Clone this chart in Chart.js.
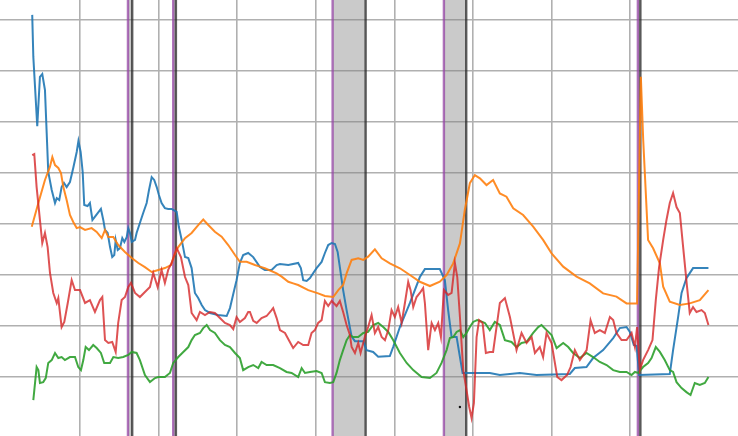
<!doctype html>
<html>
<head>
	<meta charset="UTF-8">
	<title>Rates</title>
	<script src="https://cdn.jsdelivr.net/npm/chart.js@4"></script>
	<style>
		body { margin: 0; background: #fff; }
	</style>
</head>
<body>
	<canvas id="chart" width="738" height="436"></canvas>
	<script>
		// [year, value] pairs
		const policyRate = [
			[1981.96,17.75],[1982.03,15.69],[1982.28,12.30],[1982.45,14.71],[1982.60,14.85],[1982.77,14.07],[1982.88,11.96],[1982.98,10.05],
			[1983.20,9.17],[1983.41,8.53],[1983.52,8.77],[1983.68,8.68],[1983.83,9.31],[1983.98,9.51],[1984.15,9.31],[1984.36,9.56],
			[1984.57,10.25],[1984.79,11.03],[1984.90,11.57],[1985.04,11.03],[1985.17,10.05],[1985.27,8.43],[1985.48,8.38],[1985.63,8.53],
			[1985.79,7.70],[1985.98,7.89],[1986.33,8.24],[1986.48,7.70],[1986.59,7.21],[1986.76,7.06],[1986.91,6.37],[1987.05,5.88],
			[1987.18,5.98],[1987.27,6.72],[1987.40,6.23],[1987.54,6.32],[1987.69,6.81],[1987.82,6.62],[1987.97,6.86],[1988.07,7.30],
			[1988.18,7.06],[1988.29,6.62],[1988.50,6.72],[1988.60,7.06],[1988.81,7.55],[1989.02,8.04],[1989.24,8.53],[1989.39,9.17],
			[1989.56,9.80],[1989.72,9.66],[1989.88,9.31],[1990.02,8.92],[1990.19,8.53],[1990.40,8.28],[1990.61,8.24],[1990.83,8.24],
			[1991.04,8.14],[1991.15,8.09],[1991.29,7.35],[1991.47,6.72],[1991.68,5.88],[1991.89,5.83],[1992.10,5.34],[1992.20,4.75],
			[1992.31,4.12],[1992.52,3.87],[1992.74,3.53],[1992.95,3.28],[1993.27,3.14],[1993.78,3.04],[1994.33,2.99],[1994.54,3.38],
			[1994.75,4.07],[1994.96,4.75],[1995.17,5.59],[1995.38,5.98],[1995.70,6.08],[1996.02,5.88],[1996.45,5.39],[1996.76,5.25],
			[1997.19,5.25],[1997.51,5.49],[1997.72,5.54],[1998.25,5.49],[1998.88,5.59],[1999.05,5.34],[1999.20,4.75],[1999.42,4.71],
			[1999.63,4.85],[1999.84,5.10],[2000.05,5.34],[2000.37,5.64],[2000.58,6.08],[2000.79,6.47],[2001.01,6.57],[2001.22,6.52],
			[2001.39,6.13],[2001.53,5.39],[2001.74,4.26],[2001.96,3.28],[2002.28,1.98],[2002.49,1.76],[2003.02,1.76],[2003.23,1.32],
			[2003.65,1.23],[2003.97,1.00],[2004.71,1.03],[2004.92,1.47],[2005.35,2.45],[2005.99,3.63],[2006.62,4.90],[2006.94,5.29],
			[2007.89,5.29],[2008.21,4.75],[2008.42,3.28],[2008.64,1.96],[2008.96,1.96],[2009.17,0.98],[2009.34,0.20],[2010.01,0.20],
			[2011.07,0.20],[2011.71,0.10],[2012.98,0.20],[2014.04,0.10],[2016.16,0.15],[2016.48,0.44],[2017.22,0.49],[2017.64,0.93],
			[2018.28,1.32],[2018.92,1.91],[2019.34,2.40],[2019.77,2.45],[2019.98,2.21],[2020.23,1.57],[2020.41,1.52],[2020.57,0.10],
			[2022.52,0.15],[2022.73,1.32],[2023.05,2.94],[2023.27,4.12],[2023.58,4.85],[2024.00,5.34],[2024.98,5.34]
		];

		const unemployment = [
			[1981.93,7.37],[1982.35,8.53],[1982.77,9.66],[1983.09,10.31],[1983.24,10.78],[1983.41,10.39],[1983.62,10.25],[1983.79,10.00],
			[1983.94,9.31],[1984.15,8.68],[1984.36,7.94],[1984.57,7.60],[1984.79,7.30],[1985.00,7.35],[1985.32,7.21],[1985.74,7.30],
			[1986.06,7.11],[1986.38,6.81],[1986.59,7.21],[1986.80,6.86],[1987.12,6.86],[1987.43,6.47],[1987.86,6.13],[1988.29,5.83],
			[1988.71,5.59],[1989.13,5.39],[1989.56,5.15],[1989.98,5.25],[1990.40,5.34],[1990.79,5.49],[1991.00,5.98],[1991.25,6.37],
			[1991.68,6.81],[1992.10,7.06],[1992.52,7.45],[1992.84,7.72],[1993.16,7.45],[1993.58,7.12],[1994.01,6.88],[1994.43,6.47],
			[1994.86,5.98],[1995.17,5.65],[1995.60,5.65],[1996.13,5.49],[1996.45,5.41],[1996.76,5.33],[1997.51,5.08],[1997.83,4.92],
			[1998.25,4.67],[1998.56,4.59],[1998.88,4.51],[1999.52,4.26],[2000.15,4.10],[2000.58,3.97],[2001.11,3.92],[2001.43,4.26],
			[2001.74,4.51],[2001.96,5.08],[2002.28,5.74],[2002.70,5.82],[2003.02,5.74],[2003.33,5.90],[2003.76,6.26],[2004.19,5.82],
			[2004.71,5.57],[2005.35,5.33],[2005.99,5.00],[2006.62,4.67],[2007.26,4.46],[2007.89,4.67],[2008.32,5.00],[2008.74,5.57],
			[2009.17,6.55],[2009.48,8.19],[2009.80,9.50],[2010.12,9.90],[2010.44,9.74],[2010.86,9.41],[2011.28,9.66],[2011.71,9.00],
			[2012.13,8.84],[2012.56,8.27],[2013.19,7.94],[2013.83,7.37],[2014.46,6.72],[2015.00,6.06],[2015.74,5.41],[2016.59,4.92],
			[2017.43,4.59],[2018.28,4.10],[2019.13,3.94],[2019.77,3.61],[2020.44,3.61],[2020.68,14.72],[2020.83,11.62],[2021.14,6.72],
			[2021.46,6.31],[2021.89,5.57],[2022.10,4.43],[2022.52,3.69],[2023.16,3.53],[2023.79,3.61],[2024.43,3.77],[2024.98,4.26]
		];

		const inflation = [
			[1981.96,10.88],[1982.09,10.93],[1982.24,9.31],[1982.45,7.70],[1982.60,6.57],[1982.77,7.06],[1982.94,6.37],[1983.09,5.10],
			[1983.30,4.12],[1983.52,3.63],[1983.62,3.87],[1983.83,2.45],[1984.00,2.70],[1984.22,3.63],[1984.47,4.75],[1984.68,4.26],
			[1985.00,4.26],[1985.32,3.63],[1985.63,3.77],[1985.95,3.19],[1986.27,3.77],[1986.42,3.92],[1986.59,1.81],[1986.80,1.67],
			[1987.05,1.72],[1987.27,1.23],[1987.43,2.65],[1987.65,3.77],[1987.86,3.92],[1988.07,4.41],[1988.24,4.61],[1988.50,4.12],
			[1988.81,3.92],[1989.13,4.17],[1989.45,4.41],[1989.66,5.10],[1989.94,4.41],[1990.19,5.25],[1990.40,4.61],[1990.61,5.25],
			[1990.83,5.59],[1991.15,6.32],[1991.42,5.88],[1991.68,4.90],[1991.89,4.51],[1992.10,3.14],[1992.42,2.79],[1992.63,3.19],
			[1992.95,3.04],[1993.27,3.19],[1993.58,3.14],[1993.90,2.89],[1994.22,2.65],[1994.54,2.55],[1994.75,2.35],[1994.96,2.94],
			[1995.17,2.70],[1995.49,2.89],[1995.70,3.19],[1995.81,3.19],[1996.02,2.75],[1996.24,2.65],[1996.55,2.89],[1996.87,2.99],
			[1997.19,3.28],[1997.29,3.38],[1997.51,2.89],[1997.72,2.30],[1998.04,2.16],[1998.35,1.72],[1998.56,1.42],[1998.88,1.72],
			[1999.20,1.57],[1999.52,1.57],[1999.73,2.16],[1999.94,2.30],[2000.15,2.65],[2000.37,2.79],[2000.58,3.73],[2000.79,3.48],
			[2001.01,3.73],[2001.32,3.48],[2001.53,3.73],[2001.74,3.19],[2001.96,2.55],[2002.17,2.06],[2002.28,1.47],[2002.49,1.18],
			[2002.70,1.67],[2002.85,1.18],[2003.12,1.96],[2003.33,2.45],[2003.55,3.04],[2003.76,2.16],[2003.97,2.45],[2004.19,1.96],
			[2004.40,1.81],[2004.61,2.30],[2004.82,3.28],[2005.03,2.94],[2005.24,3.43],[2005.46,2.65],[2005.67,3.63],[2005.88,4.66],
			[2006.03,4.26],[2006.20,3.43],[2006.41,3.92],[2006.62,4.12],[2006.83,4.36],[2006.94,3.63],[2007.15,1.32],[2007.37,2.65],
			[2007.58,2.30],[2007.79,2.65],[2007.96,1.96],[2008.15,4.26],[2008.42,4.02],[2008.64,4.12],[2008.85,5.59],[2009.00,4.90],
			[2009.17,2.94],[2009.38,0.34],[2009.59,-0.64],[2009.76,-1.47],[2009.91,-2.01],[2010.06,-1.27],[2010.23,1.96],[2010.39,2.79],
			[2010.61,2.65],[2010.82,1.18],[2011.07,1.23],[2011.28,1.23],[2011.71,3.63],[2012.03,3.87],[2012.35,2.94],[2012.77,1.32],
			[2013.09,2.16],[2013.41,1.67],[2013.73,1.96],[2013.94,1.18],[2014.25,1.47],[2014.46,0.98],[2014.68,2.16],[2015.00,1.67],
			[2015.36,0.00],[2015.63,-0.15],[2015.99,0.10],[2016.21,0.49],[2016.48,1.32],[2016.80,0.83],[2017.23,1.32],[2017.48,2.79],
			[2017.75,2.16],[2018.07,2.30],[2018.39,2.16],[2018.71,2.94],[2018.92,2.79],[2019.13,2.16],[2019.45,1.81],[2019.77,1.81],
			[2020.09,2.16],[2020.30,1.47],[2020.44,2.45],[2020.61,0.34],[2020.82,0.83],[2021.14,1.32],[2021.42,1.81],[2021.63,3.77],
			[2021.84,5.39],[2022.10,6.72],[2022.31,7.70],[2022.52,8.53],[2022.73,9.02],[2022.95,8.33],[2023.16,8.04],[2023.37,6.37],
			[2023.62,4.41],[2023.79,3.14],[2024.00,3.43],[2024.22,3.19],[2024.54,3.28],[2024.75,3.14],[2024.98,2.55]
		];

		const gap = [
			[1982.03,-1.13],[1982.24,0.49],[1982.35,0.34],[1982.45,-0.29],[1982.66,-0.25],[1982.82,-0.05],[1982.98,0.69],[1983.20,0.83],
			[1983.41,1.18],[1983.62,0.93],[1983.83,0.98],[1984.04,0.83],[1984.36,0.98],[1984.68,0.98],[1984.89,0.49],[1985.06,0.34],
			[1985.21,0.83],[1985.36,1.47],[1985.57,1.32],[1985.84,1.57],[1986.06,1.42],[1986.33,1.18],[1986.54,0.69],[1986.91,0.69],
			[1987.12,0.98],[1987.43,0.93],[1987.75,0.98],[1988.07,1.08],[1988.29,1.23],[1988.60,1.18],[1988.81,0.83],[1989.13,0.10],
			[1989.45,-0.25],[1989.77,-0.05],[1989.98,0.00],[1990.40,0.00],[1990.72,0.20],[1990.93,0.69],[1991.25,0.98],[1991.57,1.23],
			[1991.89,1.47],[1992.10,1.81],[1992.31,2.06],[1992.63,2.16],[1992.84,2.40],[1993.06,2.55],[1993.27,2.30],[1993.58,2.16],
			[1993.90,1.81],[1994.22,1.57],[1994.54,1.47],[1994.86,1.18],[1995.17,0.93],[1995.38,0.34],[1995.70,0.49],[1996.02,0.59],
			[1996.34,0.44],[1996.55,0.74],[1996.87,0.59],[1997.29,0.59],[1997.72,0.44],[1998.14,0.25],[1998.46,0.20],[1998.88,0.00],
			[1999.10,0.44],[1999.31,0.20],[1999.63,0.25],[2000.05,0.29],[2000.37,0.20],[2000.58,-0.25],[2000.90,-0.29],[2001.11,-0.25],
			[2001.32,0.20],[2001.53,0.83],[2001.74,1.32],[2001.96,1.81],[2002.17,2.06],[2002.38,1.96],[2002.70,1.96],[2003.02,2.16],
			[2003.33,2.21],[2003.65,2.55],[2003.97,2.65],[2004.29,2.45],[2004.61,2.21],[2004.92,1.81],[2005.35,1.18],[2005.78,0.69],
			[2006.20,0.34],[2006.73,0.00],[2007.26,-0.05],[2007.68,0.20],[2008.00,0.69],[2008.32,1.32],[2008.53,1.91],[2008.74,1.96],
			[2008.96,2.21],[2009.17,2.30],[2009.38,1.96],[2009.59,2.16],[2009.80,2.45],[2010.01,2.70],[2010.27,2.79],[2010.44,2.75],
			[2010.76,2.65],[2011.07,2.30],[2011.39,2.70],[2011.71,2.55],[2012.03,1.81],[2012.45,1.72],[2012.77,1.47],[2013.09,1.67],
			[2013.41,1.72],[2013.83,2.16],[2014.15,2.45],[2014.36,2.55],[2014.68,2.30],[2015.00,2.06],[2015.32,1.42],[2015.74,1.67],
			[2016.06,1.47],[2016.37,1.18],[2016.80,0.93],[2017.22,1.18],[2017.64,0.98],[2018.07,0.74],[2018.50,0.59],[2018.92,0.34],
			[2019.34,0.25],[2019.77,0.25],[2020.09,0.10],[2020.30,0.25],[2020.51,0.20],[2020.82,0.49],[2021.14,0.69],[2021.36,0.93],
			[2021.63,1.47],[2021.89,1.23],[2022.20,0.83],[2022.52,0.34],[2022.73,0.25],[2022.95,-0.25],[2023.27,-0.54],[2023.58,-0.74],
			[2023.84,-0.88],[2024.11,-0.29],[2024.43,-0.39],[2024.75,-0.29],[2024.98,0.00]
		];

		const markerPoint = [[2009.17, -1.47]];

		// shaded periods (start, end)
		const shadeStart = [1988.05, 1990.93, 2001.07, 2008.15, 2020.49];
		const shadeEnd = [1988.32, 1991.10, 2003.17, 2009.57, 2020.65];

		function toPoints (pairs) {
			return pairs.map(p => ({ x: p[0], y: p[1] }))
		}

		const shadePlugin = {
			id: 'shade',
			beforeDatasetsDraw (chart) {
				const { ctx, chartArea, scales } = chart
				ctx.save()
				for (let i = 0; i < shadeStart.length; i++) {
					const x1 = scales.x.getPixelForValue(shadeStart[i])
					const x2 = scales.x.getPixelForValue(shadeEnd[i])
					ctx.fillStyle = 'rgba(128,128,128,0.42)'
					ctx.fillRect(x1, chartArea.top, x2 - x1, chartArea.bottom - chartArea.top)
					ctx.lineWidth = 2.4
					ctx.strokeStyle = 'rgba(150,70,165,0.75)'
					ctx.beginPath()
					ctx.moveTo(x1, chartArea.top)
					ctx.lineTo(x1, chartArea.bottom)
					ctx.stroke()
					ctx.strokeStyle = 'rgba(40,40,40,0.75)'
					ctx.beginPath()
					ctx.moveTo(x2, chartArea.top)
					ctx.lineTo(x2, chartArea.bottom)
					ctx.stroke()
				}
				ctx.restore()
			}
		}

		function keepTicks (step, lo, hi) {
			return scale => {
				scale.ticks = scale.ticks.filter(t => {
					const k = t.value / step
					return Math.abs(k - Math.round(k)) < 1e-6 && t.value >= lo - 1e-6 && t.value <= hi + 1e-6
				})
			}
		}

		const gridOpts = { color: '#b0b0b0', lineWidth: 1.6, drawTicks: false }

		const config = {
			type: 'line',
			data: {
				datasets: [
					{ label: 'policy rate', data: toPoints(policyRate), borderColor: 'rgba(31,119,180,0.9)', order: 3 },
					{ label: 'unemployment', data: toPoints(unemployment), borderColor: 'rgba(255,127,14,0.9)', order: 2 },
					{ label: 'gap', data: toPoints(gap), borderColor: 'rgba(44,160,44,0.9)', order: 1 },
					{ label: 'inflation', data: toPoints(inflation), borderColor: 'rgba(214,39,40,0.8)', order: 0 },
					{ type: 'scatter', label: 'marker', data: toPoints(markerPoint), pointRadius: 1.2, backgroundColor: '#111', borderWidth: 0, order: 4 }
				]
			},
			options: {
				responsive: false,
				animation: false,
				events: [],
				layout: { padding: 0, autoPadding: false },
				elements: {
					point: { radius: 0 },
					line: { tension: 0, borderWidth: 2, fill: false }
				},
				plugins: {
					legend: { display: false },
					tooltip: { enabled: false }
				},
				scales: {
					x: {
						type: 'linear',
						min: 1979.91,
						max: 2026.86,
						ticks: { display: false, stepSize: 5 },
						grid: gridOpts,
						border: { display: false },
						afterBuildTicks: keepTicks(5, 1985, 2025)
					},
					y: {
						min: -2.89,
						max: 18.48,
						ticks: { display: false, stepSize: 2.5 },
						grid: gridOpts,
						border: { display: false },
						afterBuildTicks: keepTicks(2.5, -2.5, 17.5)
					}
				}
			},
			plugins: [shadePlugin]
		}

		new Chart(document.getElementById('chart'), config)
	</script>
</body>
</html>
